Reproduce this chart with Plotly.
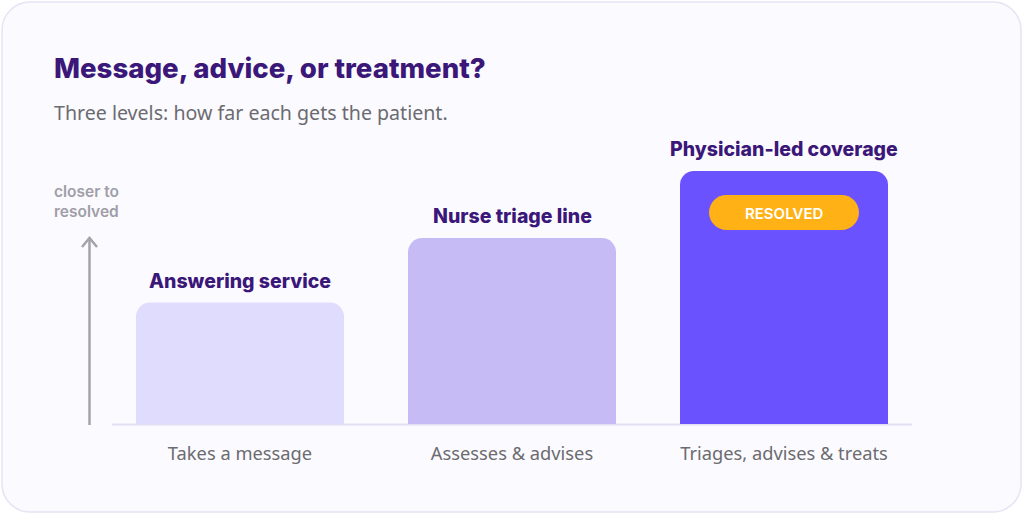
import plotly.graph_objects as go

# ---- data ----
categories = ["Takes a message", "Assesses & advises", "Triages, advises & treats"]
tiers = ["Answering service", "Nurse triage line", "Physician-led coverage"]
resolution_level = [48, 73.5, 100]
bar_colors = ["#E0DCFD", "#C6BBF5", "#6B52FF"]
badge_text = "RESOLVED"
title_text = "Message, advice, or treatment?"
subtitle_text = "Three levels: how far each gets the patient."
axis_note = "closer to<br>resolved"

W, H = 1024, 515
L, R, T, B = 104, 104, 171, 91
PW, PH = W - L - R, H - T - B


def px(x):
    return (x - L) / PW


def py(y):
    return (H - B - y) / PH


def rounded_rect(x0, y0, x1, y1, r):
    k = 0.5523 * r
    pts = [
        f"M{px(x0 + r)},{py(y0)}",
        f"L{px(x1 - r)},{py(y0)}",
        f"C{px(x1 - r + k)},{py(y0)} {px(x1)},{py(y0 + r - k)} {px(x1)},{py(y0 + r)}",
        f"L{px(x1)},{py(y1 - r)}",
        f"C{px(x1)},{py(y1 - r + k)} {px(x1 - r + k)},{py(y1)} {px(x1 - r)},{py(y1)}",
        f"L{px(x0 + r)},{py(y1)}",
        f"C{px(x0 + r - k)},{py(y1)} {px(x0)},{py(y1 - r + k)} {px(x0)},{py(y1 - r)}",
        f"L{px(x0)},{py(y0 + r)}",
        f"C{px(x0)},{py(y0 + r - k)} {px(x0 + r - k)},{py(y0)} {px(x0 + r)},{py(y0)}",
        "Z",
    ]
    return " ".join(pts)


fig = go.Figure()
fig.add_trace(go.Bar(
    x=list(range(len(categories))),
    y=resolution_level,
    marker=dict(color=bar_colors, line=dict(width=0)),
    hoverinfo="skip",
    width=208 / 272,
))

shapes = [
    # card
    dict(type="path", xref="paper", yref="paper", layer="below",
         path=rounded_rect(2, 2, 1021, 512, 28),
         fillcolor="#FBFAFE", line=dict(color="#E6E3F4", width=1.5)),
    # baseline
    dict(type="line", xref="paper", yref="paper", layer="below",
         x0=px(112), x1=px(912), y0=py(424.5), y1=py(424.5),
         line=dict(color="#E2DFF5", width=2)),
    # arrow shaft
    dict(type="line", xref="paper", yref="paper",
         x0=px(89.5), x1=px(89.5), y0=py(425), y1=py(238.5),
         line=dict(color="#A4A2AB", width=2.5)),
    # arrow head
    dict(type="path", xref="paper", yref="paper",
         path=f"M{px(82)},{py(247)} L{px(89.5)},{py(238)} L{px(97)},{py(247)}",
         line=dict(color="#A4A2AB", width=2.5)),
    # badge pill
    dict(type="path", xref="paper", yref="paper",
         path=rounded_rect(709, 195, 859, 230, 17.5),
         fillcolor="#FFB116", line=dict(width=0)),
]

annotations = [
    dict(text=title_text, xref="paper", yref="paper",
         x=px(52), y=py(68), xanchor="left", yanchor="middle", showarrow=False,
         font=dict(family="Inter", size=27.6, weight=800, color="#3A1779")),
    dict(text=subtitle_text, xref="paper", yref="paper",
         x=px(52), y=py(112), xanchor="left", yanchor="middle", showarrow=False,
         font=dict(family="Noto Sans", size=19.6, color="#6B6B70")),
    dict(text=axis_note, xref="paper", yref="paper",
         x=px(52), y=py(201.5), xanchor="left", yanchor="middle", showarrow=False,
         align="left", font=dict(family="Inter", size=15.5, weight=600, color="#A09EA8"),
         ),
    dict(text=badge_text, xref="paper", yref="paper",
         x=px(784), y=py(213), xanchor="center", yanchor="middle", showarrow=False,
         font=dict(family="Inter", size=15, weight=600, color="#FFFFFF")),
]
for i, (t, v) in enumerate(zip(tiers, resolution_level)):
    annotations.append(dict(
        text=t, x=i, y=v, xref="x", yref="y",
        xanchor="center", yanchor="bottom", yshift=8, showarrow=False,
        font=dict(family="Inter", size=19.5, weight=800, color="#3A1779")))

fig.update_layout(
    width=W, height=H,
    margin=dict(l=L, r=R, t=T, b=B, pad=0),
    paper_bgcolor="#FFFFFF",
    plot_bgcolor="rgba(0,0,0,0)",
    showlegend=False,
    barcornerradius=14,
    shapes=shapes,
    annotations=annotations,
    xaxis=dict(range=[-0.5, 2.5], tickmode="array",
               tickvals=list(range(len(categories))), ticktext=categories,
               showgrid=False, zeroline=False, showline=False, ticks="",
               ticklabelstandoff=17,
               tickfont=dict(family="Noto Sans", size=18.3, color="#6B6B70"),
               fixedrange=True),
    yaxis=dict(range=[0, 100], visible=False, fixedrange=True),
)

fig.write_html("out.html", config={"displayModeBar": False})
